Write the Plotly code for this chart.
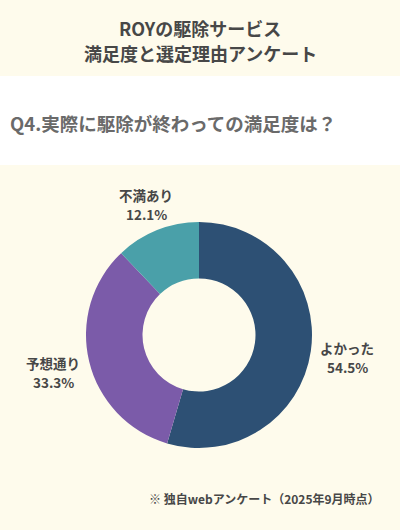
import plotly.graph_objects as go

# アンケート結果
labels = ["よかった", "予想通り", "不満あり"]
values = [54.5, 33.3, 12.1]
colors = ["#2D5074", "#7B5BA9", "#4AA0A9"]

title_lines = ["ROYの駆除サービス", "満足度と選定理由アンケート"]
question = "Q4.実際に駆除が終わっての満足度は？"
footnote = "※ 独自webアンケート（2025年9月時点）"

# ラベル位置 (px, 上からの位置)
label_pos = [(347, 348), (53, 363), (146, 195)]

W, H = 400, 530
FONT = "Noto Sans CJK JP"
BG = "#FEFBEC"


def py(y):
    return 1 - y / H


fig = go.Figure()
fig.add_trace(go.Pie(
    labels=labels,
    values=values,
    hole=0.5,
    sort=False,
    direction="clockwise",
    rotation=0,
    marker=dict(colors=colors, line=dict(width=0)),
    textinfo="none",
    hoverinfo="label+percent",
    domain=dict(x=[86 / W, 312 / W], y=[py(448), py(222)]),
    showlegend=False,
))

annotations = []
for i, line in enumerate(title_lines):
    annotations.append(dict(
        text=f"<b>{line}</b>",
        x=0.5, y=py(28 + i * 25), xref="paper", yref="paper",
        showarrow=False, font=dict(family=FONT, size=18, color="#474747"),
        xanchor="center", yanchor="middle", borderpad=0,
    ))
annotations.append(dict(
    text="<b>" + question + "</b>",
    x=8 / W, y=py(123), xref="paper", yref="paper",
    showarrow=False, font=dict(family=FONT, size=18.5, color="#6A6A6A"),
    xanchor="left", yanchor="middle",
))
for lab, val, (lx, ly) in zip(labels, values, label_pos):
    annotations.append(dict(
        text=f"<b>{lab}</b>",
        x=lx / W, y=py(ly), xref="paper", yref="paper",
        showarrow=False, font=dict(family=FONT, size=13.5, color="#474747"),
        xanchor="center", yanchor="middle",
    ))
    annotations.append(dict(
        text=f"<b>{val:.1f}%</b>",
        x=lx / W, y=py(ly + 19), xref="paper", yref="paper",
        showarrow=False, font=dict(family=FONT, size=13.5, color="#474747"),
        xanchor="center", yanchor="middle",
    ))
annotations.append(dict(
    text="<b>" + footnote + "</b>",
    x=382 / W, y=py(498), xref="paper", yref="paper",
    showarrow=False, font=dict(family=FONT, size=12, color="#474747"),
    xanchor="right", yanchor="middle",
))

fig.update_layout(
    width=W, height=H,
    margin=dict(l=0, r=0, t=0, b=0),
    paper_bgcolor=BG,
    plot_bgcolor=BG,
    annotations=annotations,
    shapes=[dict(
        type="rect", xref="paper", yref="paper",
        x0=0, x1=1, y0=py(165), y1=py(76),
        fillcolor="white", line=dict(width=0), layer="below",
    )],
)

fig.write_html("out.html", config={"displayModeBar": False},
               post_script="document.body.style.margin='0';")
